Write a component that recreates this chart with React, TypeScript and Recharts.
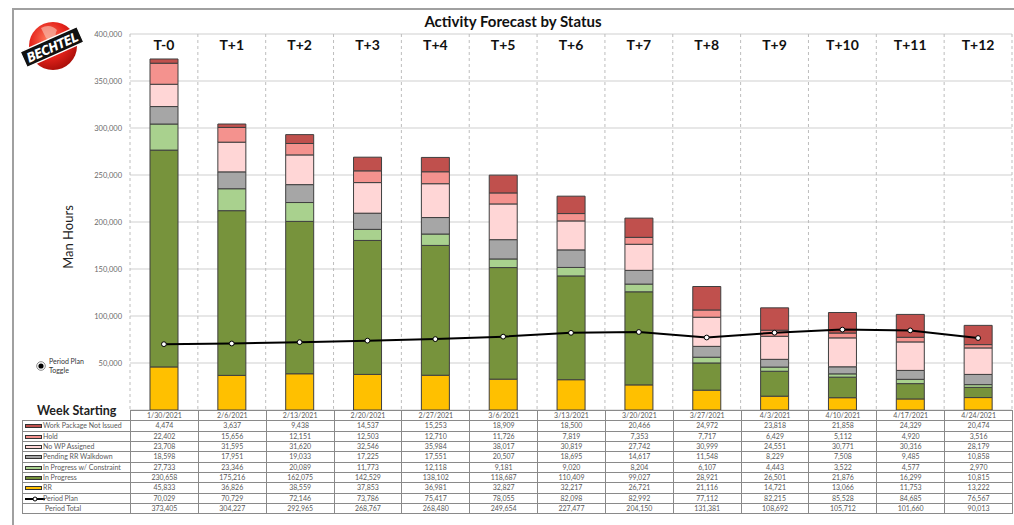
import React from 'react';
import { ComposedChart, Bar, Line, XAxis, YAxis, CartesianGrid } from 'recharts';

const categories = ['T-0', 'T+1', 'T+2', 'T+3', 'T+4', 'T+5', 'T+6', 'T+7', 'T+8', 'T+9', 'T+10', 'T+11', 'T+12'];
const weeks = ['1/30/2021', '2/6/2021', '2/13/2021', '2/20/2021', '2/27/2021', '3/6/2021', '3/13/2021', '3/20/2021', '3/27/2021', '4/3/2021', '4/10/2021', '4/17/2021', '4/24/2021'];
const wpNotIssued = [4474, 3637, 9438, 14537, 15253, 18909, 18500, 20466, 24972, 23818, 21858, 24329, 20474];
const hold = [22402, 15656, 12151, 12503, 12710, 11726, 7819, 7353, 7717, 6429, 5112, 4920, 3516];
const noWp = [23708, 31595, 31620, 32546, 35984, 38017, 30819, 27742, 30999, 24551, 30771, 30316, 28179];
const pendingRR = [18598, 17951, 19033, 17225, 17551, 20507, 18695, 14617, 11548, 8229, 7508, 9485, 10858];
const constraint = [27733, 23346, 20089, 11773, 12118, 9181, 9020, 8204, 6107, 4443, 3522, 4577, 2970];
const inProgress = [230658, 175216, 162075, 142529, 138102, 118687, 110409, 99027, 28921, 26501, 21876, 16299, 10815];
const rr = [45833, 36826, 38559, 37853, 36981, 32827, 32217, 26721, 21116, 14721, 13066, 11753, 13222];
const periodPlan = [70029, 70729, 72146, 73786, 75417, 78055, 82098, 82992, 77112, 82215, 85528, 84685, 76567];
const periodTotal = [373405, 304227, 292965, 268767, 268480, 249654, 227477, 204150, 131381, 108692, 105712, 101660, 90013];
const yTicks = [0, 50000, 100000, 150000, 200000, 250000, 300000, 350000, 400000];

const series = [
  { key: 'wp', name: 'Work Package Not Issued', color: '#c0504d', values: wpNotIssued },
  { key: 'hold', name: 'Hold', color: '#f4928e', values: hold },
  { key: 'nowp', name: 'No WP Assigned', color: '#ffd6d6', values: noWp },
  { key: 'pend', name: 'Pending RR Walkdown', color: '#a6a6a6', values: pendingRR },
  { key: 'cons', name: 'In Progress w/ Constraint', color: '#a9d18e', values: constraint },
  { key: 'prog', name: 'In Progress', color: '#77933c', values: inProgress },
  { key: 'rr', name: 'RR', color: '#ffc000', values: rr },
];

const data = categories.map((c, i) => {
  const row: any = { cat: c, plan: periodPlan[i] };
  series.forEach((s) => (row[s.key] = s.values[i]));
  return row;
});

const fmt = (v: number) => v.toLocaleString('en-US');

const PLOT_LEFT = 130;
const PLOT_RIGHT = 1012;
const COL_W = (PLOT_RIGHT - PLOT_LEFT) / categories.length;
const TABLE_TOP = 410;
const ROW_H = 10.35;
const LEG_LEFT = 22;
const FONT = 'Lato, "Open Sans", sans-serif';
const BORDER = '#8a8a8a';
const TEXT = '#5a5a5a';

const CatTick = (props: any) => {
  const { x, payload } = props;
  return (
    <text x={x} y={50} textAnchor="middle" fontSize={14} fontWeight={700} fill="#111" fontFamily={FONT}>
      {payload.value}
    </text>
  );
};

const Logo = () => (
  <svg width={80} height={70} style={{ position: 'absolute', left: 12, top: 12 }}>
    <defs>
      <radialGradient id="globe" cx="40%" cy="35%" r="70%">
        <stop offset="0%" stopColor="#ff7a5c" />
        <stop offset="55%" stopColor="#e5231b" />
        <stop offset="100%" stopColor="#a50d08" />
      </radialGradient>
    </defs>
    <circle cx={41} cy={34} r={24} fill="url(#globe)" />
    <path d="M29 16 q9 -5 16 2 q-4 7 2 11 q-9 2 -13 -3 z" fill="#f7b7a8" opacity={0.7} />
    <g transform="translate(40,35) rotate(-24)">
      <rect x={-31} y={-8.5} width={62} height={17} fill="#111" stroke="#fff" strokeWidth={1.3} />
      <text x={0} y={5} textAnchor="middle" fontSize={13} fontWeight={800} fontStyle="italic" fill="#fff" fontFamily='"DejaVu Sans Condensed", "DejaVu Sans", sans-serif' letterSpacing={-0.6}>
        BECHTEL
      </text>
    </g>
  </svg>
);

const Swatch = ({ color, line }: { color: string; line?: boolean }) =>
  line ? (
    <svg width={20} height={6} style={{ position: 'absolute', left: 2, top: 2 }}>
      <line x1={0} y1={3} x2={20} y2={3} stroke="#000" strokeWidth={2} />
      <circle cx={10} cy={3} r={2} fill="#fff" stroke="#000" strokeWidth={1} />
    </svg>
  ) : (
    <div style={{ position: 'absolute', left: 2, top: 3, width: 17, height: 4, background: color, border: '1px solid #333', boxSizing: 'border-box' }} />
  );

export default function App() {
  const tableRows = [
    ...series.map((s) => ({ name: s.name, color: s.color, values: s.values, line: false, total: false })),
    { name: 'Period Plan', color: '#000', values: periodPlan, line: true, total: false },
    { name: 'Period Total', color: '', values: periodTotal, line: false, total: true },
  ];

  const cellStyle = (left: number, top: number, width: number): React.CSSProperties => ({
    position: 'absolute',
    left,
    top,
    width,
    height: ROW_H + 1,
    border: `1px solid ${BORDER}`,
    boxSizing: 'border-box',
    fontSize: 7,
    lineHeight: `${ROW_H - 1}px`,
    color: TEXT,
    whiteSpace: 'nowrap',
  });

  return (
    <div style={{ position: 'absolute', left: 0, top: 0, width: 1014, height: 525, background: '#fff', fontFamily: FONT, overflow: 'hidden' }}>
      {/* frame */}
      <div style={{ position: 'absolute', left: 12, top: 8, width: 1002, height: 1.5, background: '#a0a0a0' }} />
      <div style={{ position: 'absolute', left: 12, top: 8, width: 1.5, height: 517, background: '#a0a0a0' }} />

      <div style={{ position: 'absolute', left: 0, top: 0 }}>
        <ComposedChart width={1014} height={412} data={data} margin={{ top: 4, right: 2, bottom: 2, left: 0 }} barSize={28}>
          <CartesianGrid vertical={false} stroke="#cfcfcf" strokeWidth={1} />
          <CartesianGrid
            horizontal={false}
            stroke="#bdbdbd"
            strokeDasharray="3 3"
            verticalCoordinatesGenerator={({ offset }: any) =>
              Array.from({ length: categories.length + 1 }, (_, i) => offset.left + (i * offset.width) / categories.length)
            }
          />
          <XAxis dataKey="cat" orientation="top" height={30} axisLine={false} tickLine={false} interval={0} tick={CatTick} />
          <YAxis
            width={130}
            domain={[0, 400000]}
            ticks={yTicks}
            axisLine={false}
            tickLine={false}
            tickSize={0}
            tickMargin={8}
            tick={{ fontSize: 7.5, fill: '#6a6a6a', fontFamily: FONT }}
            tickFormatter={(v: number) => (v === 0 ? '' : fmt(v))}
          />
          {[...series].reverse().map((s) => (
            <Bar key={s.key} dataKey={s.key} stackId="a" fill={s.color} stroke="#3f3f3f" strokeWidth={1} isAnimationActive={false} />
          ))}
          <Line
            dataKey="plan"
            type="linear"
            stroke="#000"
            strokeWidth={2}
            dot={{ r: 2.4, fill: '#fff', stroke: '#000', strokeWidth: 1 }}
            activeDot={false}
            isAnimationActive={false}
          />
        </ComposedChart>
      </div>

      {/* title */}
      <div style={{ position: 'absolute', left: 313, width: 400, top: 12, textAlign: 'center', fontSize: 15, fontWeight: 700, color: '#111' }}>
        Activity Forecast by Status
      </div>

      <Logo />

      {/* y axis title */}
      <div style={{ position: 'absolute', left: 68, top: 237, transform: 'translate(-50%, -50%) rotate(-90deg)', fontSize: 13, color: '#222', whiteSpace: 'nowrap' }}>
        Man Hours
      </div>

      {/* toggle */}
      <svg width={12} height={12} style={{ position: 'absolute', left: 35, top: 360 }}>
        <circle cx={6} cy={6} r={4.3} fill="#fff" stroke="#888" strokeWidth={1} />
        <circle cx={6} cy={6} r={2.6} fill="#000" />
      </svg>
      <div style={{ position: 'absolute', left: 49, top: 357, fontSize: 7, lineHeight: '9px', color: '#333' }}>
        Period Plan
        <br />
        Toggle
      </div>

      {/* table */}
      <div style={{ position: 'absolute', left: 37, top: 403, fontSize: 12.5, fontWeight: 700, color: '#222', whiteSpace: 'nowrap' }}>
        Week Starting
      </div>
      {weeks.map((w, i) => (
        <div key={w} style={{ ...cellStyle(PLOT_LEFT + i * COL_W, TABLE_TOP, COL_W + 1), textAlign: 'center' }}>
          {w}
        </div>
      ))}
      {tableRows.map((r, ri) => {
        const top = TABLE_TOP + ROW_H * (ri + 1);
        return (
          <React.Fragment key={r.name}>
            <div style={cellStyle(LEG_LEFT, top, PLOT_LEFT - LEG_LEFT + 1)}>
              {!r.total && <Swatch color={r.color} line={r.line} />}
              <span style={{ position: 'absolute', left: r.total ? 22 : 20, top: 0 }}>{r.name}</span>
            </div>
            {r.values.map((v, i) => (
              <div key={i} style={{ ...cellStyle(PLOT_LEFT + i * COL_W, top, COL_W + 1), textAlign: 'center' }}>
                {fmt(v)}
              </div>
            ))}
          </React.Fragment>
        );
      })}
    </div>
  );
}
